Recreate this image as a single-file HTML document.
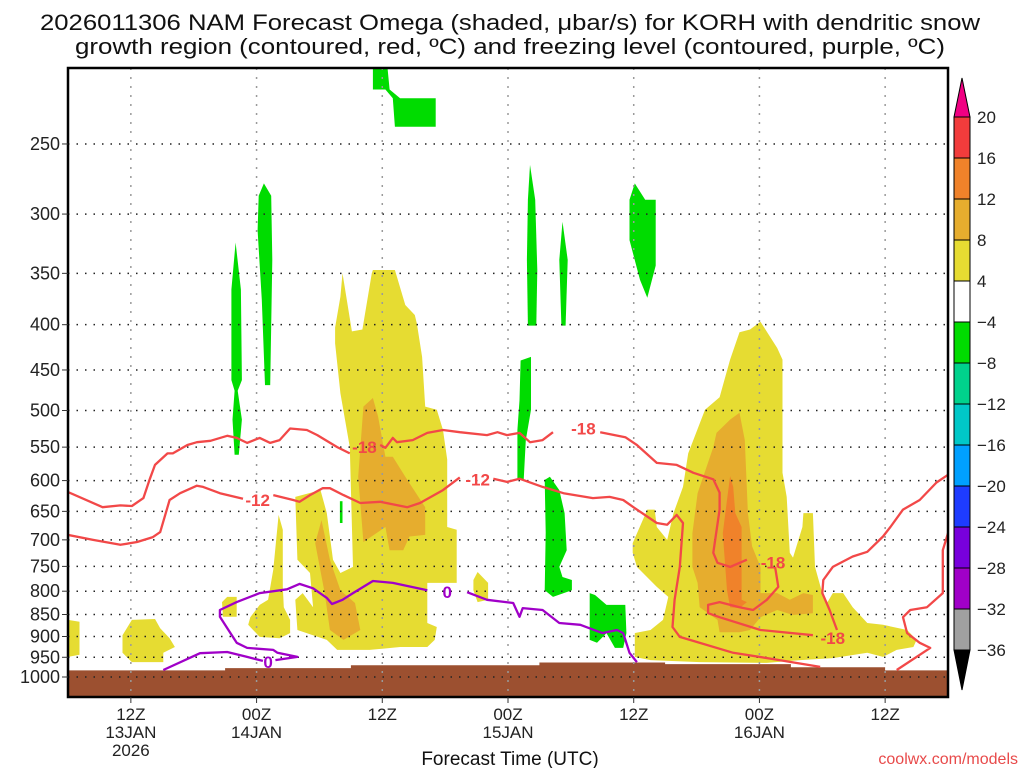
<!DOCTYPE html>
<html><head><meta charset="utf-8"><style>
html,body{margin:0;padding:0;background:#fff;}
svg{display:block;font-family:"Liberation Sans",sans-serif;}
</style></head><body>
<svg id="chart" width="1024" height="768" viewBox="0 0 1024 768">
<g id="title">
<text x="510" y="30" text-anchor="middle" font-size="22" textLength="940" lengthAdjust="spacingAndGlyphs" fill="#111">2026011306 NAM Forecast Omega (shaded, μbar/s) for KORH with dendritic snow</text>
<text x="510" y="54" text-anchor="middle" font-size="22" textLength="870" lengthAdjust="spacingAndGlyphs" fill="#111">growth region (contoured, red, ºC) and freezing level (contoured, purple, ºC)</text>
</g>
<g id="plot"></g>
<g id="cbar"></g>
<text x="510" y="765" text-anchor="middle" font-size="19" fill="#111">Forecast Time (UTC)</text>
<text x="1018" y="764" text-anchor="end" font-size="16" fill="#e84a4a">coolwx.com/models</text>
</svg>
<script>
// ---- data ----
const pLevels=[250,300,350,400,450,500,550,600,650,700,750,800,850,900,950,1000];
const xTickHours=[6,18,30,42,54,66,78];
const xTickL1=["12Z","00Z","12Z","00Z","12Z","00Z","12Z"];
const xTickL2=["13JAN","14JAN","","15JAN","","16JAN",""];
const xTickL3=["2026","","","","","",""];
const sfcHours=[0,3,6,9,12,15,18,21,24,27,30,33,36,39,42,45,48,51,54,57,60,63,66,69,72,75,78,81,84];
const sfcPres=[983,983,983,983,983,977,977,977,977,970,970,970,970,970,970,963,963,963,963,967,967,967,967,975,975,975,983,983,983];
const greenAreas=[
[[29.1,205],[30.5,205],[30.7,217],[31.7,222],[35.1,222],[35.1,239],[31.2,239],[31.0,222],[30.3,217],[29.1,217]],
[[16.0,323],[16.5,365],[16.6,462],[16.2,475],[16.6,512],[16.3,561],[15.9,561],[15.7,512],[15.9,475],[15.6,462],[15.6,365]],
[[18.7,277],[19.4,286],[19.5,338],[19.3,468],[18.8,468],[18.5,375],[18.1,313],[18.2,286]],
[[44.1,264],[44.6,289],[44.8,347],[44.7,401],[43.9,401],[43.8,338],[43.9,289]],
[[43.2,439],[44.2,435],[44.2,499],[43.7,540],[43.5,599],[42.9,599],[42.9,526],[43.1,487]],
[[47.2,306],[47.7,338],[47.5,401],[47.1,401],[46.9,338]],
[[54.1,277],[55.1,289],[56.1,289],[56.1,343],[55.3,373],[54.6,356],[53.6,321],[53.6,289]],
[[45.5,599],[46.0,594],[46.9,615],[47.4,653],[47.6,719],[46.9,751],[47.2,771],[48.1,777],[48.1,798],[46.3,812],[45.5,798],[45.6,687]],
[[49.8,804],[50.3,808],[51.4,829],[53.2,829],[53.3,892],[53.0,927],[52.2,927],[51.4,892],[50.5,915],[49.8,908]],
[[25.95,633],[26.2,633],[26.2,670],[25.95,670]]
];
const yellowAreas=[
[[0,862],[1.1,866],[1.1,944],[0,949]],
[[5.2,897],[6.1,862],[8.3,860],[8.8,881],[9.7,904],[10.2,925],[9.1,939],[9.1,962],[6.1,962],[5.2,939]],
[[14.7,823],[15.2,812],[16.1,812],[16.1,855],[14.8,855]],
[[20.1,656],[20.5,682],[20.5,791],[20.6,834],[21.2,862],[21.2,892],[20.2,904],[18.3,901],[17.2,873],[17.4,856],[18.3,829],[19.1,818],[19.6,756]],
[[26.2,350],[27.1,407],[28.1,405],[29.0,350],[29.1,347],[31.2,347],[32.2,380],[33.1,390],[33.3,399],[33.8,435],[34.1,495],[35.2,499],[35.8,526],[36.2,568],[36.2,677],[37.1,682],[37.1,783],[34.3,783],[34.3,869],[35.2,878],[35.0,908],[34.3,925],[31.7,925],[28.8,932],[25.7,932],[24.7,908],[21.9,885],[21.7,818],[22.4,804],[23.4,834],[23.1,763],[21.9,737],[21.7,626],[24.1,615],[24.7,653],[25.3,737],[26.0,763],[27.2,751],[26.9,550],[26.0,478],[25.5,420],[25.5,403],[26.0,372]],
[[39.1,761],[40.1,783],[40.1,818],[39.1,823],[38.7,798],[38.7,777]],
[[66.1,397],[67.7,425],[68.2,438],[68.2,588],[68.6,626],[68.9,724],[69.2,733],[70.1,677],[70.2,653],[71.1,653],[71.3,751],[72.0,804],[72.5,823],[73.0,804],[74.0,804],[74.9,834],[76.3,869],[77.8,873],[80.1,885],[81.0,908],[80.7,925],[79.1,932],[77.8,949],[76.3,939],[73.0,952],[69.9,957],[66.7,964],[60.3,962],[55.6,957],[54.1,949],[54.1,892],[55.6,885],[56.8,862],[57.3,812],[56.2,791],[54.3,751],[53.9,724],[53.9,706],[55.3,647],[56.0,647],[56.2,677],[57.2,700],[57.8,653],[58.7,610],[59.2,559],[60.8,499],[62.2,483],[63.2,438],[64.1,408],[65.1,405]]
];
const orangeAreas=[
[[28.2,495],[29.1,484],[29.6,508],[30.3,564],[31.0,564],[32.2,594],[34.1,643],[34.1,691],[32.6,694],[32.0,719],[30.7,719],[30.3,677],[28.2,704],[27.7,594]],
[[24.2,665],[25.0,737],[26.0,798],[27.4,825],[27.9,885],[26.3,908],[25.0,885],[24.5,804],[23.6,706]],
[[63.2,512],[64.1,503],[64.6,540],[64.9,653],[65.3,712],[66.1,751],[66.1,804],[67.7,804],[68.9,818],[70.2,804],[71.1,808],[71.1,847],[69.2,851],[67.7,840],[66.1,856],[65.1,885],[64.1,890],[62.2,890],[62.0,862],[60.3,834],[60.1,783],[59.6,751],[59.6,688],[60.1,620],[61.6,550],[61.9,530]]
];
const darkOrangeAreas=[
[[63.2,593],[63.5,610],[63.7,653],[64.3,677],[64.3,818],[64.8,823],[64.1,836],[63.2,834],[62.9,798],[62.5,688],[62.9,631]]
];
const m18Line=[[0,618],[3.3,643],[5,640],[6.1,641],[7.2,628],[7.8,598],[8.3,576],[9.5,559],[10,559],[11.4,547],[12.3,543],[13.6,541],[15.2,534],[16.1,537],[17.1,544],[18.3,537],[19.3,544],[20.2,540],[21.2,524],[22.8,526],[23.8,533],[25.7,550],[26.9,559],null,[29.8,547],[30.3,551],[31.0,537],[31.4,543],[32.9,540],[34.3,530],[35.8,526],[37.4,529],[40.0,533],[41.0,529],[41.9,533],[43.1,530],[44.1,543],[45.3,540],[46.3,529],null,[50.8,529],[53.2,536],[54.3,547],[56.2,573],[58.1,576],[59.7,588],[61.6,598],[62.2,619],[62.2,647],[61.6,724],[62.0,743],[63.2,751],[64.8,737],null,[67.5,751],[67.8,791],[66.7,818],[65.4,840],[64.1,834],[62.2,823],[61.1,829],[61.1,847],[62.2,856],[66.1,885],[71.1,897],null,[73.4,885],[72.7,840],[72.0,804],[72.1,777],[73.0,751],[74.9,731],[76.3,722],[77.8,694],[78.5,677],[79.7,647],[81.3,631],[82.9,603],[84,591]];
const m12Line=[[0,691],[2.4,700],[5.0,709],[6.6,704],[8.1,695],[8.8,686],[9.7,631],[10.7,620],[12.3,608],[12.9,610],[14.5,620],[16.7,629],null,[19.6,623],[21.5,631],[22.1,634],[23.1,623],[24.3,612],[25.0,612],[26.3,623],[27.9,636],[29.8,634],[32.4,643],[33.6,636],[35.8,615],[37.4,595],null,[40.6,597],[41.9,602],[43.1,597],[45.3,610],[47.3,620],[50.1,628],[51.7,626],[53.0,631],[54.3,647],[56.2,670],[57.2,673],[58.1,656],[58.7,670],[58.4,751],[57.9,818],[57.7,878],[58.4,901],[63.5,939],[67.7,956],[71.8,974],null,[79.1,982],[82.3,927],[81.3,915],[80.1,892],[79.7,856],[80.4,840],[82.0,834],[83.5,804],[83.5,751],[83.5,719],[84,688]];
const zeroLine=[[9.1,982],[12.6,940],[15.2,937],[17.1,949],[18.6,959],null,[19.8,957],[21.9,949],[20.0,939],[19.6,932],[17.1,927],[16.1,915],[14.5,855],[14.5,840],[16.1,823],[18.3,804],[20.9,796],[22.1,785],[23.4,794],[24.7,814],[25.2,827],[26.2,818],[27.2,804],[29.1,779],[31.0,783],[34.3,798],null,[38.1,802],[40.0,818],[42.5,825],[43.1,855],[43.4,836],[45.3,840],[46.9,869],[48.9,873],[51.0,892],[52.4,885],[53.0,892],[53.6,939],[54.3,962]];
const m18Labels=[[28.3,550],[49.2,524],[67.3,742],[73.0,903]];
const m12Labels=[[18.1,631],[39.1,598]];
const zeroLabels=[[19.1,962],[36.2,802]];
const cbarValues=[20,16,12,8,4,-4,-8,-12,-16,-20,-24,-28,-32,-36];
const cbarColors=["#f23c3c","#f0822a","#e6ad2e","#e6dc32","#ffffff","#00dc00","#00d28c","#00c8c8","#00a0ff","#1e3cff","#7800dc","#a000c8","#a0a0a0"];

// ---- axes ----
const X0=68,X1=948,YT=68,YB=697;
const X=h=>X0+h*(X1-X0)/84;
const Y=p=>677-(Math.log(1000)-Math.log(p))*384.5;
const NS="http://www.w3.org/2000/svg";
const plot=document.getElementById('plot');
function mk(tag,attrs,parent){const e=document.createElementNS(NS,tag);for(const k in attrs)e.setAttribute(k,attrs[k]);(parent||plot).appendChild(e);return e;}
const pts=a=>a.map(d=>X(d[0]).toFixed(1)+','+Y(d[1]).toFixed(1)).join(' ');
function linePath(arr){let d='',pen=false;arr.forEach(q=>{if(!q){pen=false;return;}d+=(pen?'L':'M')+X(q[0]).toFixed(1)+' '+Y(q[1]).toFixed(1);pen=true;});return d;}

const clip=mk('clipPath',{id:'pc'});mk('rect',{x:X0,y:YT,width:X1-X0,height:YB-YT},clip);
const body=mk('g',{'clip-path':'url(#pc)'});

function areas(list,color,name){list.forEach(a=>{const e=mk('polygon',{points:pts(a),fill:color},body);

});}
areas(yellowAreas,'#e6dc32','omega-4-8-area');
areas(orangeAreas,'#e6ad2e','omega-8-12-area');
areas(darkOrangeAreas,'#f0822a','omega-12-16-area');
areas(greenAreas,'#00dc00','omega-neg4-neg8-area');

// ground
let gp=[];sfcHours.forEach((h,i)=>{const h2=i<sfcHours.length-1?sfcHours[i+1]:h;gp.push([h,sfcPres[i]]);gp.push([h2,sfcPres[i]]);});
const gpoly=[[0,1100]].concat(gp).concat([[84,1100]]);
const ground=mk('polygon',{points:pts(gpoly),fill:'#9c5030'},body);



// grid
xTickHours.forEach(h=>{const l=mk('line',{x1:X(h),x2:X(h),y1:YT,y2:YB,stroke:'#9a9a9a','stroke-width':1.5,'stroke-dasharray':'2 7'},body);

});
pLevels.forEach(p=>{const l=mk('line',{x1:X0,x2:X1,y1:Y(p),y2:Y(p),stroke:'#222','stroke-width':1.5,'stroke-dasharray':'1.5 7'},body);

});

// contours
function contour(arr,color,name){const e=mk('path',{d:linePath(arr),fill:'none',stroke:color,'stroke-width':2.3,'stroke-linejoin':'round'},body);

}
contour(m18Line,'#f24848','minus18-isotherm');
contour(m12Line,'#f24848','minus12-isotherm');
contour(zeroLine,'#a000c8','freezing-level-isotherm');
function labels(list,txt,color,name){list.forEach(q=>{const t=mk('text',{x:X(q[0]),y:Y(q[1])+6,'text-anchor':'middle','font-size':17,'font-weight':'bold',fill:color},body);t.textContent=txt;

});}
labels(m18Labels,'-18','#f24848','isotherm-label');
labels(m12Labels,'-12','#f24848','isotherm-label');
labels(zeroLabels,'0','#a000c8','freezing-level-label');

// frame & ticks
const fr=mk('rect',{x:X0,y:YT,width:X1-X0,height:YB-YT,fill:'none',stroke:'#000','stroke-width':2.5});


pLevels.forEach(p=>{mk('line',{x1:X0-6,x2:X0,y1:Y(p),y2:Y(p),stroke:'#333','stroke-width':1});
const t=mk('text',{x:X0-8,y:Y(p)+6,'text-anchor':'end','font-size':18,fill:'#222'});t.textContent=p;

});
xTickHours.forEach((h,i)=>{mk('line',{x1:X(h),x2:X(h),y1:YB,y2:YB+6,stroke:'#333','stroke-width':1});
[xTickL1[i],xTickL2[i],xTickL3[i]].forEach((s,j)=>{if(!s)return;const t=mk('text',{x:X(h),y:720+j*18,'text-anchor':'middle','font-size':17,fill:'#222'});t.textContent=s;

});});

// colorbar
const cb=document.getElementById('cbar');
const CBX=954,CBW=16,CBT=117,CBS=41;
const CY=i=>CBT+i*CBS;
mk('polygon',{points:`${CBX},${CY(0)} ${CBX+CBW/2},78 ${CBX+CBW},${CY(0)}`,fill:'#f00082',stroke:'#000','stroke-width':1},cb);
cbarColors.forEach((c,i)=>{const r=mk('rect',{x:CBX,y:CY(i),width:CBW,height:CBS,fill:c,stroke:'#000','stroke-width':1},cb);

});
const nb=cbarColors.length;
mk('polygon',{points:`${CBX},${CY(nb)} ${CBX+CBW/2},690 ${CBX+CBW},${CY(nb)}`,fill:'#000',stroke:'#000','stroke-width':1},cb);
cbarValues.forEach((v,i)=>{const t=mk('text',{x:977,y:CY(i)+6,'font-size':17,fill:'#222'},cb);t.textContent=v<0?'−'+Math.abs(v):String(v);

});
</script>
</body></html>
